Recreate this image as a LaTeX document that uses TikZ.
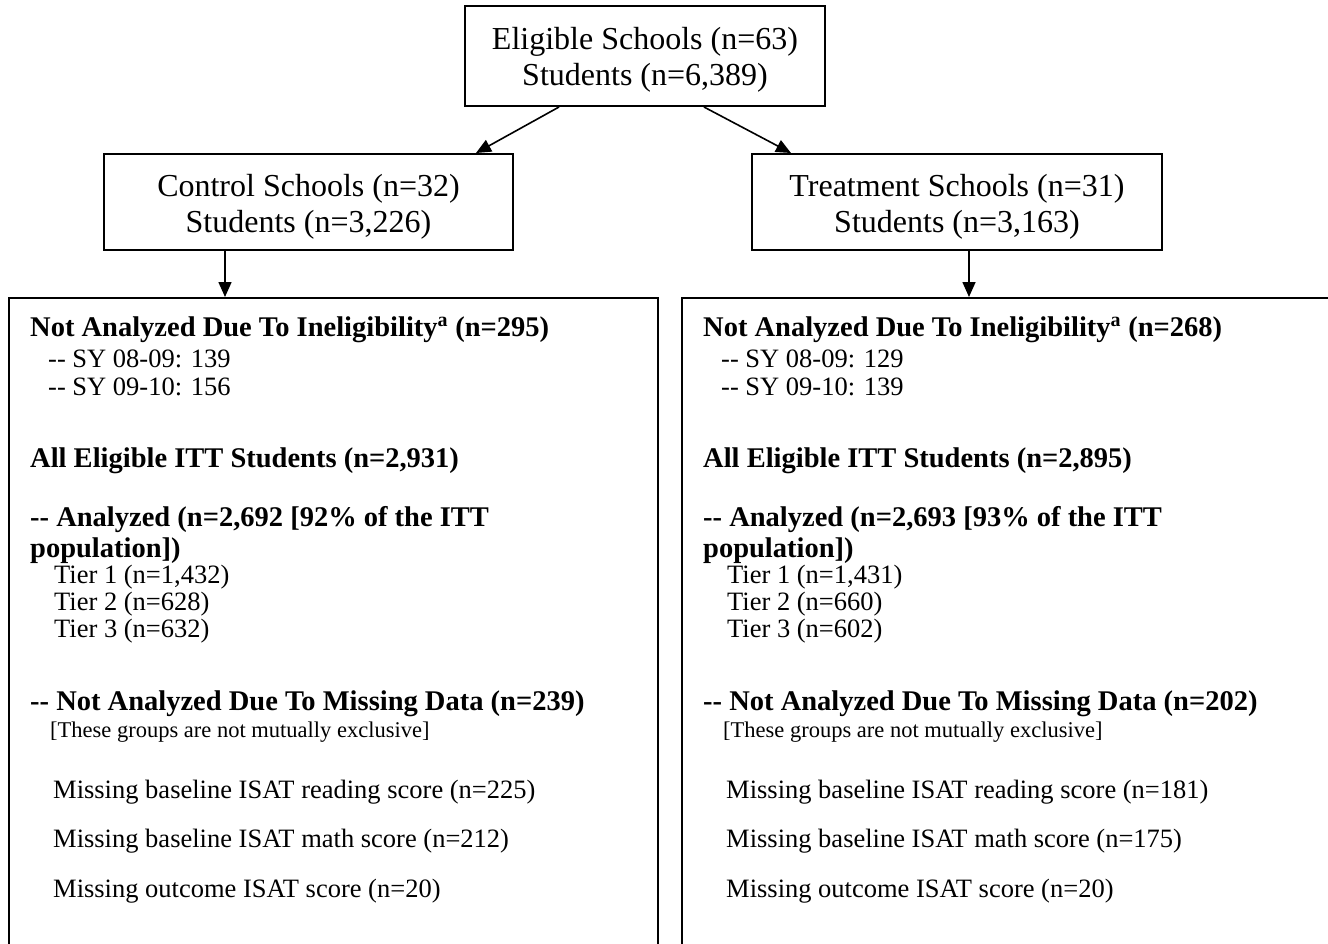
\documentclass[tikz,border=0pt]{standalone}
\usepackage{fontspec}
\setmainfont{Liberation Serif}
\usetikzlibrary{arrows.meta,calc}
\begin{document}
\begin{tikzpicture}[x=1pt,y=-1pt,
  box/.style={draw, line width=2pt, inner sep=0pt},
  lbl/.style={inner sep=0pt, align=center, font=\fontsize{32}{36.5}\selectfont},
  big/.style={draw, line width=2pt, inner sep=0pt, anchor=north west},
  arr/.style={line width=1.6pt, -{Triangle[length=15pt,width=13pt]}},
  txt/.style={anchor=base west, inner sep=0pt, font=\fontsize{26.5}{30}\selectfont},
  sm/.style={anchor=base west, inner sep=0pt, font=\fontsize{22.5}{26}\selectfont},
  hd/.style={anchor=base west, inner sep=0pt, font=\fontsize{28.5}{32}\selectfont\bfseries}]
\useasboundingbox (0,0) rectangle (1328,943);
\node[box, minimum width=360pt, minimum height=100pt] (top) at (645,56) {};
\node[box, minimum width=409pt, minimum height=96pt] (ctrl) at (308.5,202) {};
\node[box, minimum width=410pt, minimum height=96pt] (trt) at (957,202) {};
\node[lbl] (toptxt) at ($(top.center)+(0,4)$) {Eligible Schools (n=63)\\Students (n=6,389)};
\node[lbl] (ctrltxt) at ($(ctrl.center)+(0,5)$) {Control Schools (n=32)\\Students (n=3,226)};
\node[lbl] (trttxt) at ($(trt.center)+(0,5)$) {Treatment Schools (n=31)\\Students (n=3,163)};
\node[big, minimum width=649pt, minimum height=700pt] (cbig) at (8,297) {};
\node[big, minimum width=680pt, minimum height=700pt] (tbig) at (681,297) {};
\coordinate (cx) at (225,0);
\coordinate (tx) at (969,0);
\draw[arr] ($(top.south west)+(95,0)$) -- ($(ctrl.north east)+(-38,0)$);
\draw[arr] ($(top.south west)+(240,0)$) -- ($(trt.north west)+(40,0)$);
\draw[arr] (ctrl.south -| cx) -- (cbig.north -| cx);
\draw[arr] (trt.south -| tx) -- (tbig.north -| tx);
% control column
\node[hd] (c1) at (30,336) {Not Analyzed Due To Ineligibility\textsuperscript{a} (n=295)};
\node[txt] (c2) at (48,367) {-{}- SY 08-09: 139};
\node[txt] (c3) at (48,395) {-{}- SY 09-10: 156};
\node[hd] (c4) at (30,467) {All Eligible ITT Students (n=2,931)};
\node[hd] (c5) at (30,526) {-{}- Analyzed (n=2,692 [92\% of the ITT};
\node[hd] (c6) at (30,557) {population])};
\node[txt] (c7) at (54,583) {Tier 1 (n=1,432)};
\node[txt] (c8) at (54,610) {Tier 2 (n=628)};
\node[txt] (c9) at (54,637) {Tier 3 (n=632)};
\node[hd] (c10) at (30,710) {-{}- Not Analyzed Due To Missing Data (n=239)};
\node[sm] (c11) at (50,737) {[These groups are not mutually exclusive]};
\node[txt] (c12) at (53,798) {Missing baseline ISAT reading score (n=225)};
\node[txt] (c13) at (53,847) {Missing baseline ISAT math score (n=212)};
\node[txt] (c14) at (53,897) {Missing outcome ISAT score (n=20)};
% treatment column
\node[hd] (t1) at (703,336) {Not Analyzed Due To Ineligibility\textsuperscript{a} (n=268)};
\node[txt] (t2) at (721,367) {-{}- SY 08-09: 129};
\node[txt] (t3) at (721,395) {-{}- SY 09-10: 139};
\node[hd] (t4) at (703,467) {All Eligible ITT Students (n=2,895)};
\node[hd] (t5) at (703,526) {-{}- Analyzed (n=2,693 [93\% of the ITT};
\node[hd] (t6) at (703,557) {population])};
\node[txt] (t7) at (727,583) {Tier 1 (n=1,431)};
\node[txt] (t8) at (727,610) {Tier 2 (n=660)};
\node[txt] (t9) at (727,637) {Tier 3 (n=602)};
\node[hd] (t10) at (703,710) {-{}- Not Analyzed Due To Missing Data (n=202)};
\node[sm] (t11) at (723,737) {[These groups are not mutually exclusive]};
\node[txt] (t12) at (726,798) {Missing baseline ISAT reading score (n=181)};
\node[txt] (t13) at (726,847) {Missing baseline ISAT math score (n=175)};
\node[txt] (t14) at (726,897) {Missing outcome ISAT score (n=20)};
\end{tikzpicture}
\end{document}
